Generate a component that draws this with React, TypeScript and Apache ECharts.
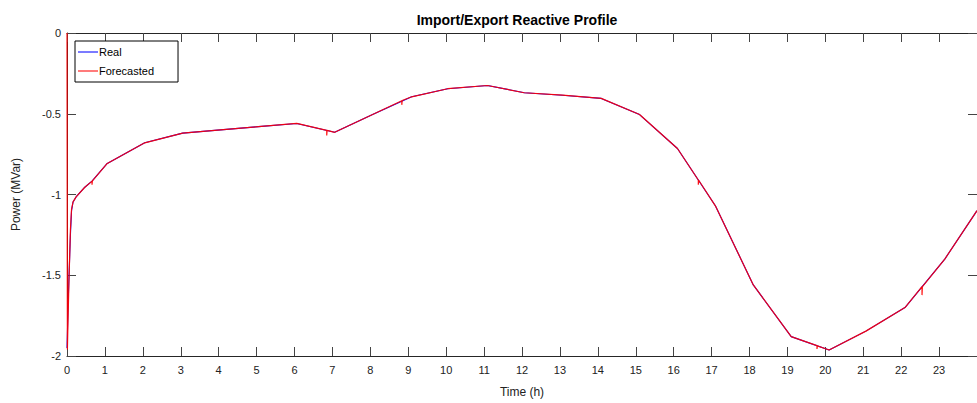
import React, { useEffect, useRef } from "react";
import * as echarts from "echarts";

const xTicks = [0, 1, 2, 3, 4, 5, 6, 7, 8, 9, 10, 11, 12, 13, 14, 15, 16, 17, 18, 19, 20, 21, 22, 23];
const yTicks = [0, -0.5, -1, -1.5, -2];

const realTime = [0, 0.04, 0.09, 0.12, 0.16, 0.24, 0.47, 0.66, 1.05, 2.05, 3.05, 4.05, 5.05, 6.06, 7.06, 8.06, 9.09, 10.04, 11.09, 12.06, 13.07, 14.09, 15.1, 16.1, 17.1, 18.1, 19.1, 20.1, 21.07, 22.1, 23.15, 24];
const realValues = [-1.95, -1.6, -1.25, -1.1, -1.046, -1.015, -0.955, -0.917, -0.81, -0.68, -0.62, -0.6, -0.58, -0.56, -0.615, -0.505, -0.395, -0.345, -0.325, -0.37, -0.385, -0.405, -0.505, -0.715, -1.07, -1.56, -1.88, -1.963, -1.846, -1.7, -1.4, -1.1];

const forecastTime = [0, 0.01, 0.05, 0.09, 0.12, 0.16, 0.24, 0.47, 0.66, 0.66, 0.67, 1.05, 2.05, 3.05, 4.05, 5.05, 6.06, 6.85, 6.85, 6.86, 7.06, 8.06, 8.83, 8.83, 8.84, 9.09, 10.04, 11.09, 12.06, 13.07, 14.09, 15.1, 16.1, 16.65, 16.65, 16.66, 17.1, 18.1, 19.1, 19.78, 19.78, 19.79, 20.1, 21.07, 22.1, 22.55, 22.55, 22.56, 23.15, 24];
const forecastValues = [0, -1.96, -1.55, -1.22, -1.09, -1.046, -1.015, -0.955, -0.917, -0.94, -0.915, -0.81, -0.68, -0.62, -0.6, -0.58, -0.56, -0.603, -0.635, -0.603, -0.615, -0.505, -0.42, -0.445, -0.418, -0.395, -0.345, -0.325, -0.37, -0.385, -0.405, -0.505, -0.715, -0.91, -0.94, -0.912, -1.07, -1.56, -1.88, -1.936, -1.956, -1.937, -1.963, -1.846, -1.7, -1.571, -1.623, -1.57, -1.4, -1.1];

const FONT = "Liberation Sans, Arial, Helvetica, sans-serif";

export default function App() {
  const ref = useRef<HTMLDivElement>(null);
  useEffect(() => {
    if (!ref.current) return;
    const chart = echarts.init(ref.current, null, { renderer: "svg" });
    const realData = realTime.map((t, i) => [t, realValues[i]]);
    const forecastData = forecastTime.map((t, i) => [t, forecastValues[i]]);
    const axisColor = "#262626";
    const tickStyle = { show: true, inside: true, length: 9, lineStyle: { color: "#444", width: 1 } };
    const common = {
      axisLine: { show: true, onZero: false, lineStyle: { color: axisColor, width: 1 } },
      splitLine: { show: false },
    };
    chart.setOption({
      animation: false,
      backgroundColor: "#ffffff",
      title: {
        text: "Import/Export Reactive Profile",
        left: 512,
        top: 8,
        textAlign: "center",
        textStyle: { fontFamily: FONT, fontSize: 14, fontWeight: "bold", color: "#000" },
      },
      legend: {
        orient: "vertical",
        left: 75,
        top: 41,
        padding: [4.5, 24, 4.5, 3],
        itemGap: 6,
        itemWidth: 20,
        itemHeight: 1.2,
        itemStyle: { opacity: 1 },
        icon: "rect",
        borderColor: "#000",
        borderWidth: 1,
        backgroundColor: "#fff",
        textStyle: { fontFamily: FONT, fontSize: 11, color: "#000", lineHeight: 13, padding: [0, 0, 0, -4] },
        data: [
          { name: "Real", itemStyle: { color: "#2222ff" } },
          { name: "Forecasted", itemStyle: { color: "#ff2222" } },
        ],
      },
      grid: { left: 67, right: -1, top: 33, bottom: 45 },
      xAxis: [
        {
          type: "value",
          min: 0,
          max: 24,
          interval: 1,
          position: "bottom",
          ...common,
          axisTick: tickStyle,
          axisLabel: {
            show: true,
            margin: 8,
            fontFamily: FONT,
            fontSize: 11,
            color: "#222",
            showMaxLabel: false,
            formatter: (v: number) => (xTicks.includes(v) ? String(v) : ""),
          },
          name: "Time (h)",
          nameLocation: "middle",
          nameGap: 30,
          nameTextStyle: { fontFamily: FONT, fontSize: 12, color: "#222" },
        },
        {
          type: "value",
          min: 0,
          max: 24,
          interval: 1,
          position: "top",
          ...common,
          axisTick: tickStyle,
          axisLabel: { show: false },
        },
      ],
      yAxis: [
        {
          type: "value",
          min: -2,
          max: 0,
          interval: 0.5,
          position: "left",
          ...common,
          axisTick: tickStyle,
          axisLabel: {
            show: true,
            margin: 6,
            fontFamily: FONT,
            fontSize: 11,
            color: "#222",
            formatter: (v: number) => (yTicks.includes(v) ? String(v) : ""),
          },
          name: "Power (MVar)",
          nameLocation: "middle",
          nameGap: 45,
          nameTextStyle: { fontFamily: FONT, fontSize: 12, color: "#222" },
        },
        {
          type: "value",
          min: -2,
          max: 0,
          interval: 0.5,
          position: "right",
          ...common,
          axisTick: tickStyle,
          axisLabel: { show: false },
        },
      ],
      series: [
        {
          name: "Real",
          type: "line",
          data: realData,
          symbol: "none",
          clip: false,
          lineStyle: { color: "#0000ff", width: 1.1 },
          itemStyle: { color: "#2222ff" },
          z: 3,
        },
        {
          name: "Forecasted",
          type: "line",
          data: forecastData,
          symbol: "none",
          clip: false,
          lineStyle: { color: "#ff0000", width: 1.2, opacity: 0.92 },
          itemStyle: { color: "#ff2222" },
          z: 4,
        },
      ],
    });
    return () => chart.dispose();
  }, []);
  return (
    <div
      ref={ref}
      style={{ position: "fixed", left: 0, top: 0, width: 977, height: 403 }}
    />
  );
}
